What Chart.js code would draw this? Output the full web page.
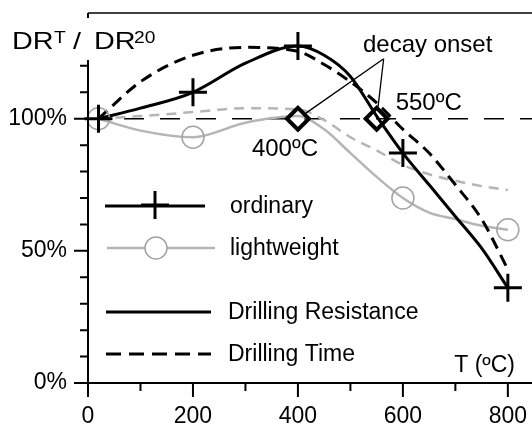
<!DOCTYPE html>
<html>
<head>
<meta charset="utf-8">
<script src="https://cdn.jsdelivr.net/npm/chart.js@4"></script>
<style>
  html, body { margin: 0; padding: 0; background: #fff; }
  #wrap { width: 532px; height: 428px; }
</style>
</head>
<body>
<div id="wrap"><canvas id="chart" width="532" height="428"></canvas></div>
<script>
const curveT    = [20, 100, 200, 300, 400, 450, 500, 550, 600, 650, 700, 750, 800];
const ordRes    = [100, 104, 110, 121, 127.5, 124, 116, 101, 87, 75, 63, 51, 36];
const ordTime   = [100, 114, 124, 127, 125.5, 120.5, 114, 106, 96, 87, 75, 62, 43];
const lightRes  = [100, 95.5, 93, 98.5, 101, 96, 87, 78, 70, 64.5, 62, 59.5, 58];
const lightTime = [100, 101, 102.5, 104, 103.5, 99.5, 93, 88, 82.5, 79, 76.5, 74.5, 73];

// measured points (markers)
const ordMarkT   = [20, 200, 400, 600, 800];
const ordMarks   = [100, 110, 127.5, 87, 36];
const lightMarkT = [20, 200, 600, 800];
const lightMarks = [100, 93, 70, 58];

// decay onset
const onsetT    = [400, 550];
const onsetVals = [100, 100];

// axes
const xTicks   = [0, 100, 200, 300, 400, 500, 600, 700, 800];
const xLabeled = [0, 200, 400, 600, 800];
const yTicks   = [0, 10, 20, 30, 40, 50, 60, 70, 80, 90, 100, 110, 120, 130];
const yLabeled = [0, 50, 100];

const FONT = '"Liberation Sans", Arial, Helvetica, sans-serif';
const GRAY = '#b5b5b5';
const CIRCLE_GRAY = '#a3a3a3';

function pts(xs, ys) {
    return xs.map((x, i) => ({ x: x, y: ys[i] }));
}

function curve(data, color, width, dash) {
    return {
        data: data,
        borderColor: color,
        borderWidth: width,
        borderDash: dash,
        pointRadius: 0,
        cubicInterpolationMode: 'monotone',
        fill: false,
        clip: false
    };
}

function markers(data, style, radius, color, width) {
    return {
        data: data,
        showLine: false,
        pointStyle: style,
        pointRadius: radius,
        pointBorderColor: color,
        pointBorderWidth: width,
        pointBackgroundColor: 'rgba(0,0,0,0)',
        clip: false
    };
}

// the reference lettering of the y title is a bit wider than Arial
function wideText(ctx, text, x, y, size) {
    ctx.save();
    ctx.font = size + 'px ' + FONT;
    ctx.translate(x, y);
    ctx.scale(1.2, 1);
    ctx.fillText(text, 0, 0);
    ctx.restore();
}

// axes, legend and annotation drawn on top of the library's scales
let decor = {
    id: 'decor',
    beforeDatasetsDraw(chart) {
        let ctx = chart.ctx;
        let area = chart.chartArea;
        let y100 = chart.scales.y.getPixelForValue(100);
        ctx.save();
        ctx.strokeStyle = '#000';
        ctx.lineWidth = 1.4;
        ctx.setLineDash([20, 16]);
        ctx.beginPath();
        ctx.moveTo(area.left, y100);
        ctx.lineTo(area.right, y100);
        ctx.stroke();
        ctx.restore();
    },
    afterDatasetsDraw(chart) {
        let ctx = chart.ctx;
        let area = chart.chartArea;
        let xs = chart.scales.x;
        let ys = chart.scales.y;
        ctx.save();
        ctx.strokeStyle = '#000';
        ctx.fillStyle = '#000';
        ctx.setLineDash([]);

        // axis lines
        ctx.lineWidth = 2;
        ctx.beginPath();
        ctx.moveTo(area.left - 14, area.bottom);
        ctx.lineTo(area.right, area.bottom);
        ctx.moveTo(area.left, area.bottom);
        ctx.lineTo(area.left, 60);
        ctx.moveTo(area.left, area.top);
        ctx.lineTo(area.left, area.top + 5);
        ctx.stroke();

        ctx.lineWidth = 1.5;
        ctx.beginPath();
        ctx.moveTo(area.left, area.top);
        ctx.lineTo(area.right, area.top);
        ctx.stroke();

        // ticks
        ctx.lineWidth = 2;
        ctx.beginPath();
        xTicks.forEach(v => {
            let px = xs.getPixelForValue(v);
            let len = xLabeled.includes(v) ? 14 : 8;
            ctx.moveTo(px, area.bottom);
            ctx.lineTo(px, area.bottom + len);
        });
        yTicks.forEach(v => {
            let py = ys.getPixelForValue(v);
            if (py < 60) return;
            let len = yLabeled.includes(v) ? 14 : 8;
            ctx.moveTo(area.left, py);
            ctx.lineTo(area.left - len, py);
        });
        ctx.stroke();

        // y title  DR^T / DR^20
        ctx.textAlign = 'left';
        ctx.textBaseline = 'alphabetic';
        wideText(ctx, 'DR', 12, 49, 24);
        wideText(ctx, 'T', 54, 43, 16);
        wideText(ctx, '/', 73, 49, 24);
        wideText(ctx, 'DR', 94, 49, 24);
        wideText(ctx, '20', 134, 43, 16);

        // x title
        ctx.font = '23px ' + FONT;
        ctx.textAlign = 'right';
        ctx.fillText('T (ºC)', 515, 372);

        // legend
        ctx.textAlign = 'left';
        ctx.textBaseline = 'middle';
        ctx.lineWidth = 3;
        ctx.strokeStyle = '#000';
        ctx.beginPath();
        ctx.moveTo(105, 206); ctx.lineTo(205, 206);
        ctx.moveTo(141, 205); ctx.lineTo(169, 205);
        ctx.moveTo(155, 191); ctx.lineTo(155, 219);
        ctx.stroke();
        ctx.fillText('ordinary', 230, 207);

        ctx.strokeStyle = GRAY;
        ctx.lineWidth = 2.5;
        ctx.beginPath();
        ctx.moveTo(107, 248); ctx.lineTo(145, 248);
        ctx.moveTo(167, 248); ctx.lineTo(215, 248);
        ctx.stroke();
        ctx.strokeStyle = CIRCLE_GRAY;
        ctx.lineWidth = 1.5;
        ctx.beginPath();
        ctx.arc(156, 248, 11, 0, Math.PI * 2);
        ctx.stroke();
        ctx.fillText('lightweight', 230, 249);

        ctx.strokeStyle = '#000';
        ctx.lineWidth = 3;
        ctx.beginPath();
        ctx.moveTo(106, 312); ctx.lineTo(211, 312);
        ctx.stroke();
        ctx.fillText('Drilling Resistance', 228, 313);

        ctx.setLineDash([15, 8]);
        ctx.beginPath();
        ctx.moveTo(106, 354); ctx.lineTo(211, 354);
        ctx.stroke();
        ctx.setLineDash([]);
        ctx.fillText('Drilling Time', 228, 355);

        // decay onset annotation
        let p400 = { x: xs.getPixelForValue(onsetT[0]), y: ys.getPixelForValue(onsetVals[0]) };
        let p550 = { x: xs.getPixelForValue(onsetT[1]), y: ys.getPixelForValue(onsetVals[1]) };
        let anchor = { x: p550.x + 7, y: p550.y - 60 };
        ctx.lineWidth = 1.3;
        ctx.beginPath();
        [p400, p550].forEach(p => {
            let dx = p.x - anchor.x, dy = p.y - anchor.y;
            let t = 1 - 13 / (Math.abs(dx) + Math.abs(dy));
            ctx.moveTo(anchor.x, anchor.y);
            ctx.lineTo(anchor.x + dx * t, anchor.y + dy * t);
        });
        ctx.stroke();

        ctx.textBaseline = 'alphabetic';
        ctx.font = '24px ' + FONT;
        ctx.textAlign = 'center';
        ctx.fillText('decay onset', anchor.x + 44, anchor.y - 7);
        ctx.textAlign = 'left';
        ctx.fillText('550ºC', p550.x + 19, p550.y - 9);
        ctx.fillText('400ºC', p400.x - 46, p400.y + 37);
        ctx.restore();
    }
};

let ctx = document.getElementById('chart').getContext('2d');
let chart = new Chart(ctx, {
    type: 'line',
    data: {
        datasets: [
            markers(pts(ordMarkT, ordMarks), 'cross', 14, '#000', 3),
            markers(pts(onsetT, onsetVals), 'rectRot', 11, '#000', 4),
            markers(pts(lightMarkT, lightMarks), 'circle', 11, CIRCLE_GRAY, 1.5),
            curve(pts(curveT, ordRes), '#000', 3, []),
            curve(pts(curveT, ordTime), '#000', 3, [12, 7]),
            curve(pts(curveT, lightRes), GRAY, 2.5, []),
            curve(pts(curveT, lightTime), GRAY, 2.5, [10, 7])
        ]
    },
    options: {
        responsive: false,
        devicePixelRatio: 1,
        animation: false,
        events: [],
        layout: { autoPadding: false, padding: { top: 13, right: 0, left: 0, bottom: 0 } },
        plugins: {
            legend: { display: false },
            tooltip: { enabled: false }
        },
        scales: {
            x: {
                type: 'linear',
                min: 0,
                max: 846,
                grid: { display: false, drawTicks: false },
                border: { display: false },
                afterBuildTicks: s => { s.ticks = xTicks.map(v => ({ value: v })); },
                afterFit: s => { s.height = 45; s.paddingLeft = 0; s.paddingRight = 0; },
                ticks: {
                    autoSkip: false,
                    maxRotation: 0,
                    padding: 20,
                    color: '#000',
                    font: { family: FONT, size: 23 },
                    callback: v => xLabeled.includes(v) ? String(v) : ''
                }
            },
            y: {
                min: 0,
                max: 140,
                grid: { display: false, drawTicks: false },
                border: { display: false },
                afterBuildTicks: s => { s.ticks = yTicks.map(v => ({ value: v })); },
                afterFit: s => { s.width = 88; s.paddingTop = 0; s.paddingBottom = 0; },
                ticks: {
                    autoSkip: false,
                    padding: 21,
                    color: '#000',
                    font: { family: FONT, size: 23 },
                    callback: v => yLabeled.includes(v) ? v + '%' : ''
                }
            }
        }
    },
    plugins: [decor]
});
</script>
</body>
</html>
